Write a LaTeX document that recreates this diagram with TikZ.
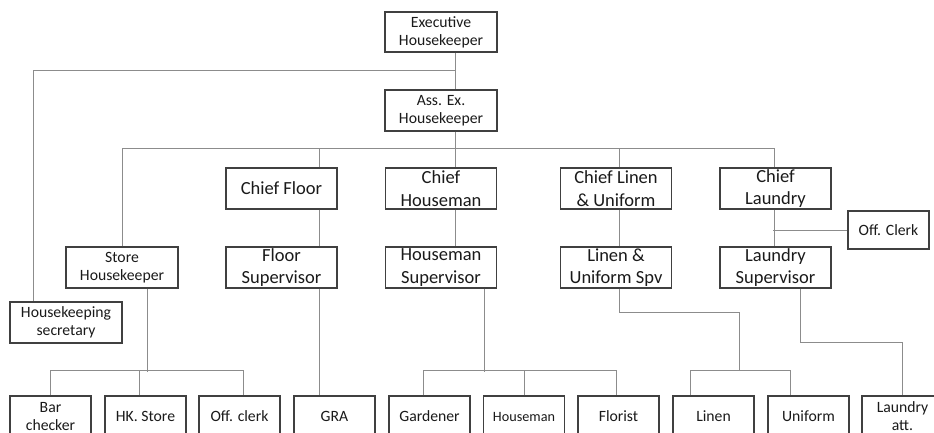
\documentclass[tikz,border=0pt]{standalone}
\usepackage{fontspec}
\setmainfont{Carlito}
\definecolor{boxline}{HTML}{404040}
\definecolor{connline}{HTML}{8C8C8C}
\definecolor{txt}{HTML}{1A1A1A}
\tikzset{
  box/.style={draw=boxline, line width=1.2pt, fill=white, align=center, inner sep=1pt, text=txt,
    minimum width=112pt, minimum height=41pt, font=\fontsize{15.7}{18}\selectfont},
  bigbox/.style={box, minimum width=111pt, font=\fontsize{18.5}{22.5}\selectfont},
  smallbox/.style={box, minimum width=81pt},
  conn/.style={draw=connline, line width=1pt}
}
\begin{document}
\begin{tikzpicture}[x=1pt,y=-1pt]
\useasboundingbox (0,0) rectangle (934,432);
\clip (0,0) rectangle (934,432);
% nodes
\node[box, minimum height=40pt] (exec) at (441,32) {Executive\\Housekeeper};
\node[box] (ass) at (441,110.5) {Ass. Ex.\\Housekeeper};
\node[bigbox] (cfl) at (281.5,188.5) {Chief Floor};
\node[bigbox] (chm) at (441,188.5) {Chief\\Houseman};
\node[bigbox] (cli) at (616,188.5) {Chief Linen\\\& Uniform};
\node[bigbox] (cla) at (775.5,188.5) {Chief\\Laundry};
\node[box, minimum width=81pt, minimum height=38pt] (offc) at (888.5,230) {Off. Clerk};
\node[box] (store) at (122,267.5) {Store\\Housekeeper};
\node[bigbox] (fsup) at (281.5,267.5) {Floor\\Supervisor};
\node[bigbox] (hsup) at (441,267.5) {Houseman\\Supervisor};
\node[bigbox] (lsup) at (616,267.5) {Linen \&\\Uniform Spv};
\node[bigbox] (lasup) at (775.5,267.5) {Laundry\\Supervisor};
\node[box] (sec) at (66,322.5) {Housekeeping\\secretary};
\node[smallbox] (bar) at (50.5,416.5) {Bar\\checker};
\node[smallbox] (hk) at (145.5,416.5) {HK. Store};
\node[smallbox] (offk) at (239.5,416.5) {Off. clerk};
\node[smallbox] (gra) at (334.5,416.5) {GRA};
\node[smallbox] (gard) at (429.5,416.5) {Gardener};
\node[smallbox, font=\fontsize{14.2}{17}\selectfont] (hou) at (524,416.5) {Houseman};
\node[smallbox] (flo) at (618.5,416.5) {Florist};
\node[smallbox] (lin) at (713.5,416.5) {Linen};
\node[smallbox] (uni) at (808.5,416.5) {Uniform};
\node[smallbox] (latt) at (902.5,416.5) {Laundry\\att.};
% connectors
\draw[conn] ([xshift=14pt]exec.south) -- ([xshift=14pt]ass.north);
\draw[conn] ([xshift=14pt,yshift=-18pt]exec.south) -| ([xshift=-33pt]sec.north);
\draw[conn] ([xshift=14pt]ass.south) -- ([xshift=14pt]chm.north);
\draw[conn] (store.north) |- ([xshift=-1.5pt,yshift=19pt]cla.north) -- ([xshift=-1.5pt]cla.north);
\draw[conn] ([xshift=37.5pt]cfl.north) -- ([xshift=37.5pt,yshift=19pt]cfl.north);
\draw[conn] ([xshift=3pt]cli.north) -- ([xshift=3pt,yshift=19pt]cli.north);
\draw[conn] ([xshift=37.5pt]cfl.south) -- ([xshift=37.5pt]fsup.north);
\draw[conn] ([xshift=37.5pt]fsup.south) -- ([xshift=-15.5pt]gra.north);
\draw[conn] ([xshift=14pt]chm.south) -- ([xshift=14pt]hsup.north);
\draw[conn] ([xshift=3pt]cli.south) -- ([xshift=3pt]lsup.north);
\draw[conn] ([xshift=-1.5pt]cla.south) -- ([xshift=-1.5pt]lasup.north);
\draw[conn] (offc.west) -- ++(-74,0);
% store housekeeper group
\draw[conn] ([xshift=25pt]store.south) -- ([xshift=25pt,yshift=-83pt]store.south);
\draw[conn] (bar.north) |- ([xshift=3.5pt,yshift=25pt]offk.north) -- ([xshift=3.5pt]offk.north);
\draw[conn] ([xshift=-6.5pt]hk.north) -- ([xshift=-6.5pt,yshift=25pt]hk.north);
% houseman supervisor group
\draw[conn] ([xshift=43pt]hsup.south) -- ([xshift=43pt,yshift=-83pt]hsup.south);
\draw[conn] ([xshift=-6.5pt]gard.north) |- ([xshift=-2.5pt,yshift=25pt]flo.north) -- ([xshift=-2.5pt]flo.north);
\draw[conn] (hou.north) -- ([yshift=25pt]hou.north);
% linen group
\draw[conn] ([xshift=3pt]lsup.south) -- ([xshift=3pt,yshift=-24pt]lsup.south) -| ([xshift=25.5pt,yshift=25pt]lin.north);
\draw[conn] ([xshift=-23.5pt]lin.north) |- ([xshift=-18.5pt,yshift=25pt]uni.north) -- ([xshift=-18.5pt]uni.north);
% laundry group
\draw[conn] ([xshift=24.5pt]lasup.south) -- ([xshift=24.5pt,yshift=-54pt]lasup.south) -| (latt.north);
\end{tikzpicture}
\end{document}
